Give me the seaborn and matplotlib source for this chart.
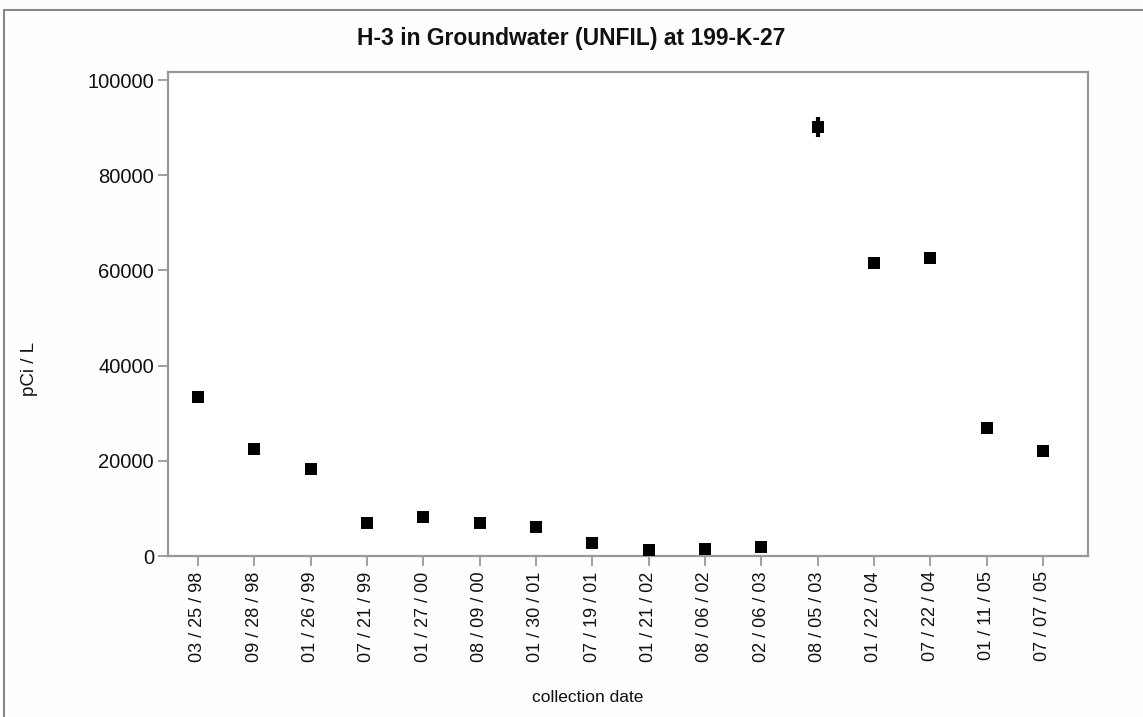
import matplotlib
matplotlib.use("Agg")
import matplotlib.pyplot as plt
import seaborn as sns
import pandas as pd
import numpy as np

dates = ["03 / 25 / 98", "09 / 28 / 98", "01 / 26 / 99", "07 / 21 / 99",
         "01 / 27 / 00", "08 / 09 / 00", "01 / 30 / 01", "07 / 19 / 01",
         "01 / 21 / 02", "08 / 06 / 02", "02 / 06 / 03", "08 / 05 / 03",
         "01 / 22 / 04", "07 / 22 / 04", "01 / 11 / 05", "07 / 07 / 05"]
values = [33500, 22500, 18300, 7000, 8200, 7000, 6100, 2700,
          1300, 1500, 1900, 90100, 61500, 62700, 27000, 22100]
errors = [600, 500, 400, 200, 200, 200, 200, 100,
          100, 100, 100, 2100, 1100, 1100, 500, 500]
yticks = [0, 20000, 40000, 60000, 80000, 100000]

sns.set_theme(style="white")
plt.rcParams['font.family'] = ['Liberation Sans', 'DejaVu Sans']

df = pd.DataFrame({"date": dates, "value": values, "err": errors})
df["pos"] = np.arange(len(df))

W, H = 1143, 717
fig = plt.figure(figsize=(W/100, H/100), dpi=100)
fig.patch.set_facecolor("#fefefe")
ax = fig.add_axes([168/W, 1 - 556/H, (1088-168)/W, (556-72)/H])

ax.errorbar(df["pos"], df["value"], yerr=df["err"], fmt="none",
            ecolor="black", elinewidth=3, capsize=0, zorder=2)
sns.scatterplot(data=df, x="pos", y="value", marker="s", s=72,
                color="black", edgecolor="black", linewidth=0, ax=ax, zorder=3)

ax.set_xlim(-0.53, 15.8)
ax.set_ylim(0, 101700)
ax.set_xticks(df["pos"])
ax.set_xticklabels(dates, rotation=90, fontsize=13, color="#111111")
ax.set_yticks(yticks)
ax.set_yticklabels([str(t) for t in yticks], fontsize=14.5, color="#111111")
ax.tick_params(axis="both", which="both", length=7, width=1.3, color="#999999",
               direction="out", bottom=True, left=True, pad=3)
ax.tick_params(axis="x", pad=4)
for sp in ax.spines.values():
    sp.set_color("#999999")
    sp.set_linewidth(1.6)
ax.set_xlabel("")
ax.set_ylabel("")

fig.text(571/W, 1 - 38/H, "H-3 in Groundwater (UNFIL) at 199-K-27",
         fontsize=16.5, fontweight="bold", color="#111111",
         ha="center", va="center")
fig.text(588/W, 1 - 698/H, "collection date", fontsize=12.5,
         color="#111111", ha="center", va="center")
fig.text(30/W, 1 - 369/H, "pCi / L", fontsize=13.5, rotation=90,
         color="#111111", ha="center", va="center")

# outer frame (left and top edges visible)
fig.add_artist(plt.Line2D([4/W, 4/W], [0, 1 - 10/H],
                          transform=fig.transFigure, color="#888888", lw=1.5))
fig.add_artist(plt.Line2D([4/W, 1], [1 - 10/H, 1 - 10/H],
                          transform=fig.transFigure, color="#888888", lw=1.5))

fig.savefig("out.png", dpi=100, facecolor=fig.get_facecolor())
